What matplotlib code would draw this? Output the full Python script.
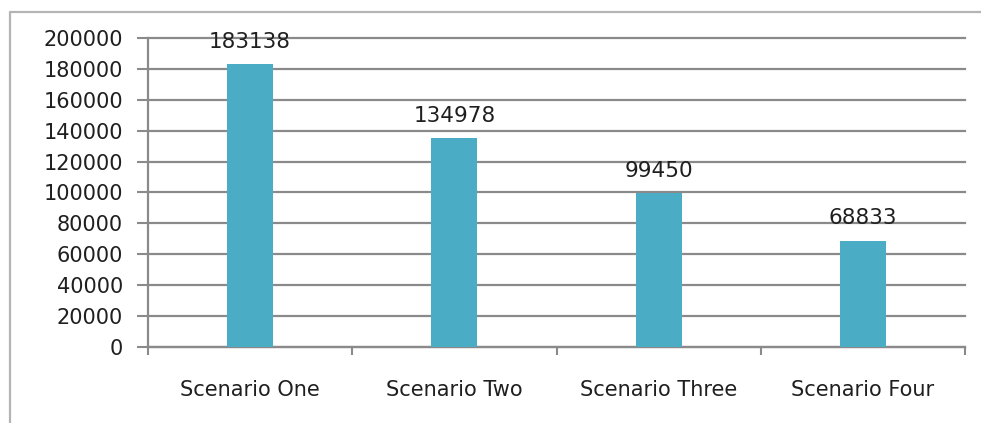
import numpy as np
import matplotlib.pyplot as plt
from matplotlib.lines import Line2D

# scenario totals
scenarios = ["Scenario One", "Scenario Two", "Scenario Three", "Scenario Four"]
totals = [183138, 134978, 99450, 68833]
y_ticks = [0, 20000, 40000, 60000, 80000, 100000, 120000, 140000, 160000, 180000, 200000]

bar_color = "#4BACC6"
grid_color = "#8a8a8a"
text_color = "#1f1f1f"

fig = plt.figure(figsize=(9.81, 4.23), dpi=100)
ax = fig.add_axes([148 / 981, 76 / 423, 817 / 981, 309 / 423])

# chart area frame (left and top edges)
fig.add_artist(Line2D([10 / 981, 10 / 981, 1.0], [0.0, 1 - 12 / 423, 1 - 12 / 423],
                      transform=fig.transFigure, color="#b4b4b4", lw=1.6))

x = np.arange(len(scenarios))
ax.bar(x, totals, width=0.225, color=bar_color, zorder=3)

for xi, v in zip(x, totals):
    ax.annotate(f"{v}", xy=(xi, v), xytext=(0, 9), textcoords="offset points",
                ha="center", va="bottom", fontsize=15.5, color=text_color, zorder=5)

ax.set_xlim(-0.5, len(scenarios) - 0.5)
ax.set_ylim(0, 200000)
ax.set_yticks(y_ticks)
ax.set_yticklabels([str(t) for t in y_ticks])

# tick marks on category boundaries, labels centred under bars
ax.set_xticks(np.arange(-0.5, len(scenarios)), labels=[""] * (len(scenarios) + 1))
ax.set_xticks(x, labels=scenarios, minor=True)
ax.tick_params(axis="x", which="major", length=6, width=1.5, color=grid_color, direction="out")
ax.tick_params(axis="x", which="minor", length=0, pad=24, labelsize=15, labelcolor=text_color)
ax.tick_params(axis="y", length=8, width=1.5, color=grid_color, pad=10,
               labelsize=15, labelcolor=text_color)

ax.grid(axis="y", color=grid_color, lw=1.6, zorder=0)
for gl in ax.get_ygridlines():
    gl.set_clip_on(False)
ax.set_axisbelow(True)
for side in ("top", "right"):
    ax.spines[side].set_visible(False)
for side in ("left", "bottom"):
    ax.spines[side].set_color(grid_color)
    ax.spines[side].set_linewidth(1.6)

fig.savefig("out.png", dpi=100)
